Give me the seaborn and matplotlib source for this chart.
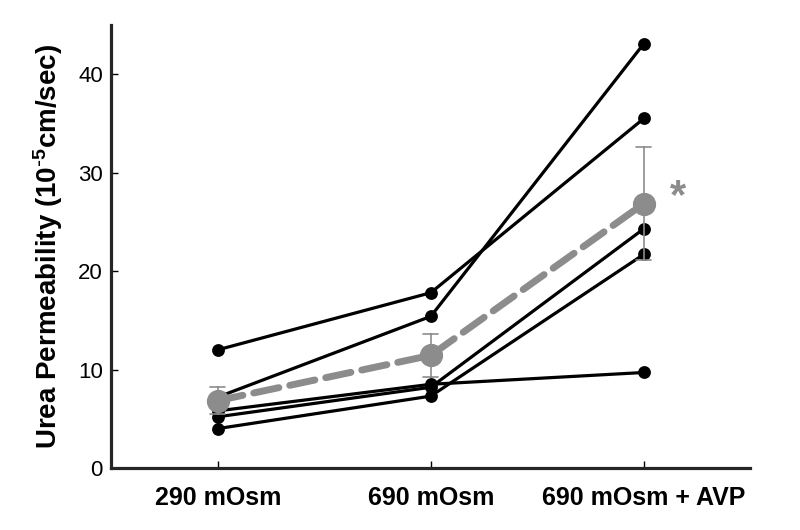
import pandas as pd
import matplotlib
matplotlib.use('Agg')
import matplotlib.pyplot as plt
import seaborn as sns

# Conditions and per-tubule urea permeability (10^-5 cm/sec)
conditions = ['290 mOsm', '690 mOsm', '690 mOsm + AVP']
tubule_1 = [12.0, 17.8, 35.5]
tubule_2 = [7.2, 15.4, 43.1]
tubule_3 = [5.8, 8.5, 9.7]
tubule_4 = [5.2, 8.2, 24.3]
tubule_5 = [4.0, 7.3, 21.7]

tubules = {'1': tubule_1, '2': tubule_2, '3': tubule_3, '4': tubule_4, '5': tubule_5}
rows = []
for name, vals in tubules.items():
    for cond, v in zip(conditions, vals):
        rows.append({'tubule': name, 'condition': cond, 'value': v})
df = pd.DataFrame(rows)

sns.set_style('ticks')
plt.rcParams['font.family'] = ['Liberation Sans', 'DejaVu Sans']
plt.rcParams['mathtext.default'] = 'regular'
plt.rcParams['lines.dash_capstyle'] = 'round'
plt.rcParams['text.color'] = 'black'
plt.rcParams['axes.labelcolor'] = 'black'
plt.rcParams['xtick.color'] = 'black'
plt.rcParams['ytick.color'] = 'black'

fig = plt.figure(figsize=(8, 5.3), dpi=100)
ax = fig.add_axes([0.139, 0.117, 0.799, 0.836])

# individual tubules
sns.pointplot(data=df, x='condition', y='value', hue='tubule', order=conditions,
              palette=['black'] * 5, errorbar=None, markers='o', markersize=7.5,
              linewidth=2.3, legend=False, ax=ax)

# mean +/- SEM
sns.pointplot(data=df, x='condition', y='value', order=conditions, color='#8c8c8c',
              errorbar='se', capsize=0.07, err_kws={'linewidth': 1.2},
              markers='o', markersize=13, linestyle='--', linewidth=5, ax=ax)

ax.set_xlim(-0.5, 2.5)
ax.set_ylim(0, 45)
ax.set_yticks([0, 10, 20, 30, 40])
ax.tick_params(axis='both', direction='in', width=1, length=5)
ax.tick_params(axis='y', labelsize=16, pad=6)
ax.tick_params(axis='x', labelsize=18, pad=13)
for lbl in ax.get_xticklabels():
    lbl.set_fontweight('bold')
ax.set_xlabel('')
ax.set_ylabel('Urea Permeability (10$^{\\text{-}5}$cm/sec)', fontsize=20, fontweight='bold', labelpad=9)
sns.despine(ax=ax)
for s in ['left', 'bottom']:
    ax.spines[s].set_linewidth(2.3)

ax.text(2.16, 27.5, '*', color='#8c8c8c', fontsize=30, fontweight='bold', ha='center', va='center')

fig.savefig('out.png', dpi=100)
